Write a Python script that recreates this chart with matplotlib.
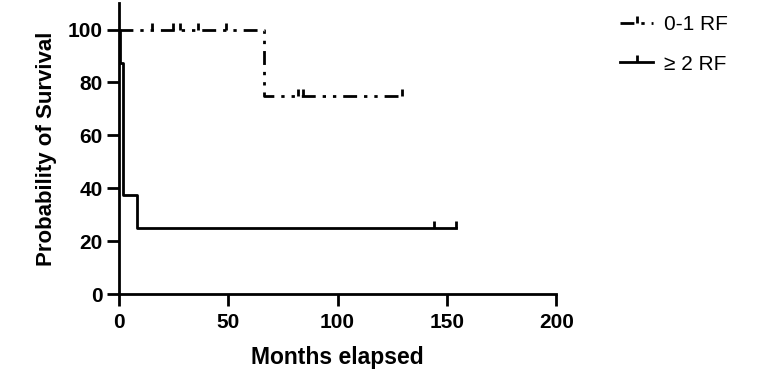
import matplotlib
matplotlib.use("Agg")
import matplotlib.pyplot as plt
from matplotlib.path import Path
from matplotlib.lines import Line2D

plt.rcParams['font.family'] = ['Liberation Sans', 'DejaVu Sans']

# 0-1 RF group
t_low = [0, 66.5, 129.5]
s_low = [100, 75, 75]
cens_low_t = [15, 25, 28, 36, 49, 82, 84, 129.5]
cens_low_s = [100, 100, 100, 100, 100, 75, 75, 75]

# >= 2 RF group
t_high = [0, 0.6, 1.8, 8.5, 154]
s_high = [100, 87.5, 37.5, 25, 25]
cens_high_t = [144, 154]
cens_high_s = [25, 25]

labels = ["0-1 RF", "\u2265 2 RF"]
x_ticks = [0, 50, 100, 150, 200]
y_ticks = [0, 20, 40, 60, 80, 100]

tick_mark = Path([(0, 0), (0, 1)])
dash = (0, (5, 2.5, 1.2, 2.5, 1.2, 2.5))

fig = plt.figure(figsize=(7.76, 3.81), dpi=100)
ax = fig.add_axes([0.153, 0.228, 0.564, 0.764])

ax.step(t_low, s_low, where='post', color='black', lw=2, linestyle=dash)
ax.plot(cens_low_t, cens_low_s, linestyle='none', marker=tick_mark,
        markersize=10, markeredgewidth=2, color='black')
ax.step(t_high, s_high, where='post', color='black', lw=2)
ax.plot(cens_high_t, cens_high_s, linestyle='none', marker=tick_mark,
        markersize=10, markeredgewidth=2, color='black')

ax.set_xlim(0, 200)
ax.set_ylim(0, 110)
ax.set_xticks(x_ticks)
ax.set_yticks(y_ticks)
for side in ['top', 'right']:
    ax.spines[side].set_visible(False)
for side in ['left', 'bottom']:
    ax.spines[side].set_linewidth(2)
ax.tick_params(width=2, length=8.5, labelsize=15, pad=3)
ax.tick_params(axis='x', pad=5)
for lab in ax.get_xticklabels() + ax.get_yticklabels():
    lab.set_fontweight('bold')

ax.set_xlabel("Months elapsed", fontsize=16.5, fontweight='bold', labelpad=10)
ax.set_ylabel("Probability of Survival", fontsize=16, fontweight='bold', labelpad=8)

handles = [
    Line2D([], [], color='black', lw=2, linestyle=dash, marker=tick_mark,
           markersize=10, markeredgewidth=2),
    Line2D([], [], color='black', lw=2, marker=tick_mark,
           markersize=10, markeredgewidth=2),
]
fig.legend(handles, labels, loc='upper left', bbox_to_anchor=(0.775, 1.01),
           frameon=False, fontsize=15, handlelength=1.6, labelspacing=1.0,
           handletextpad=0.5, numpoints=1)

fig.savefig("out.png", dpi=100)
